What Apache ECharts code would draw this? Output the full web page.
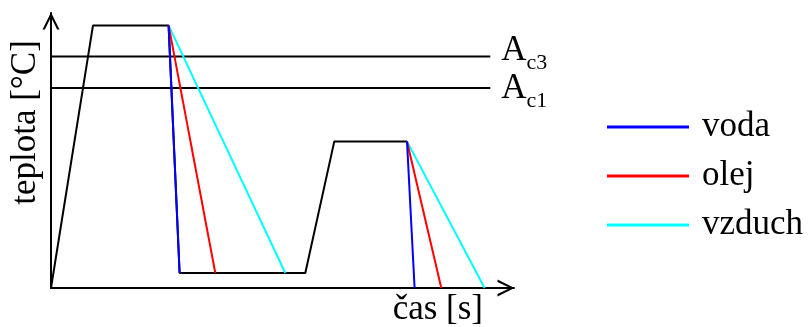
<!DOCTYPE html>
<html>
<head>
<meta charset="utf-8">
<script src="https://cdn.jsdelivr.net/npm/echarts@6/dist/echarts.min.js"></script>
<style>
  html, body { margin: 0; padding: 0; background: #fff; }
  #chart { width: 808px; height: 327px; }
</style>
</head>
<body>
<div id="chart"></div>
<script>
// tepelné zpracování – průběh teploty v čase (bez měřítka)
const profile = [[0, 0], [42, 262.6], [117.6, 262.6], [128.6, 15], [254.3, 15], [283.3, 146.6], [356, 146.6]];
const voda1 = [[117.6, 262.6], [128.6, 15]];
const olej1 = [[117.6, 262.6], [164.3, 15]];
const vzduch1 = [[117.6, 262.6], [234.3, 15]];
const voda2 = [[356, 146.6], [363.6, 0]];
const olej2 = [[356, 146.6], [390.3, 0]];
const vzduch2 = [[356, 146.6], [433.6, 0]];
const ac3 = [[0, 231.6], [439.3, 231.6]];
const ac1 = [[0, 200], [439.3, 200]];
const coolNames = ["voda", "olej", "vzduch"];
const coolColors = ["#0000ff", "#ff0000", "#00ffff"];

const FONT = "Liberation Serif";
const arrow = "path://M0,10 L5,0 L10,10 L8.6,10 L5,2.6 L1.4,10 Z";

const chart = echarts.init(document.getElementById("chart"), null, { renderer: "canvas" });

const acLabel = (sub, dy) => ({
  show: true,
  distance: 11,
  offset: [0, dy],
  formatter: "{a|A}{s|" + sub + "}",
  rich: {
    a: { fontFamily: FONT, fontSize: 35, color: "#000", verticalAlign: "bottom" },
    s: { fontFamily: FONT, fontSize: 22, color: "#000", verticalAlign: "bottom", padding: [0, 0, -6, 0] },
  },
});

const lineSeries = (name, data, color) => ({
  name,
  type: "line",
  data,
  symbol: "none",
  silent: true,
  lineStyle: { color, width: 2 },
  itemStyle: { color },
});

const axisLine = { lineStyle: { color: "#000", width: 2 }, symbol: ["none", arrow], symbolSize: [17, 17], symbolOffset: [0, -8] };

const option = {
  animation: false,
  grid: { left: 51, right: 294, top: 13, bottom: 39, containLabel: false, outerBoundsMode: "none" },
  legend: {
    data: coolNames,
    orient: "vertical",
    left: 607,
    top: 107,
    padding: 0,
    icon: "rect",
    itemWidth: 82,
    itemHeight: 3,
    itemGap: 9,
    selectedMode: false,
    textStyle: { fontFamily: FONT, fontSize: 35, color: "#000", lineHeight: 40, padding: [0, 0, 0, 8] },
  },
  xAxis: {
    type: "value",
    min: 0,
    max: 463,
    name: "čas [s]",
    nameLocation: "end",
    nameGap: -31,
    nameTextStyle: { fontFamily: FONT, fontSize: 35, color: "#000", align: "right", verticalAlign: "top", padding: [4, 0, 0, 0] },
    axisLine,
    axisTick: { show: false },
    axisLabel: { show: false },
    splitLine: { show: false },
  },
  yAxis: {
    type: "value",
    min: 0,
    max: 275,
    name: "teplota [°C]",
    nameLocation: "middle",
    nameRotate: 90,
    nameGap: 8,
    nameTextStyle: { fontFamily: FONT, fontSize: 35, color: "#000", padding: [0, 0, 0, 56] },
    axisLine,
    axisTick: { show: false },
    axisLabel: { show: false },
    splitLine: { show: false },
  },
  series: [
    Object.assign(lineSeries("Ac3", ac3, "#000"), { endLabel: acLabel("c3", -6) }),
    Object.assign(lineSeries("Ac1", ac1, "#000"), { endLabel: acLabel("c1", 1) }),
    lineSeries("profil", profile, "#000"),
    lineSeries(coolNames[2], vzduch1, coolColors[2]),
    lineSeries(coolNames[1], olej1, coolColors[1]),
    lineSeries(coolNames[0], voda1, coolColors[0]),
    lineSeries(coolNames[2], vzduch2, coolColors[2]),
    lineSeries(coolNames[1], olej2, coolColors[1]),
    lineSeries(coolNames[0], voda2, coolColors[0]),
  ],
};

chart.setOption(option);

window.addEventListener("resize", () => {
  chart.resize();
});
</script>
</body>
</html>
